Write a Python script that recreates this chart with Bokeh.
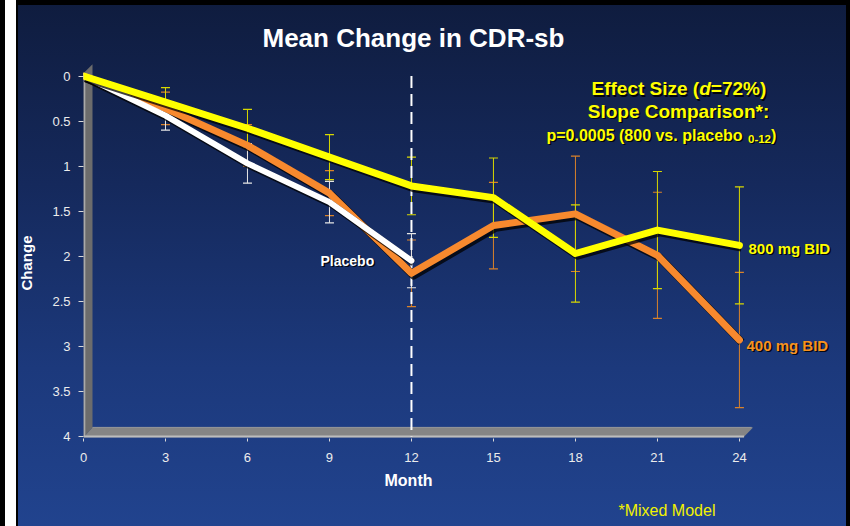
import math
from bokeh.plotting import figure
from bokeh.models import Range1d, FixedTicker, Label, ColumnDataSource, Whisker, TeeHead, Title
from bokeh.transform import dodge
from bokeh.embed import file_html
from bokeh.resources import INLINE

# ---------------- data ----------------
months = [0, 3, 6, 9, 12, 15, 18, 21, 24]
dose800 = [0, 0.29, 0.58, 0.90, 1.22, 1.35, 1.97, 1.71, 1.88]
dose800_err = [0, 0.16, 0.21, 0.25, 0.32, 0.44, 0.54, 0.65, 0.65]
dose400 = [0, 0.36, 0.77, 1.30, 2.19, 1.66, 1.53, 1.99, 2.93]
dose400_err = [0, 0.18, 0.23, 0.25, 0.37, 0.48, 0.64, 0.70, 0.75]
placebo_months = [0, 3, 6, 9, 12]
placebo = [0, 0.44, 0.97, 1.40, 2.05]
placebo_err = [0, 0.16, 0.22, 0.23, 0.30]
divider_month = 12
x_ticks = [0, 3, 6, 9, 12, 15, 18, 21, 24]
y_ticks = [0, 0.5, 1, 1.5, 2, 2.5, 3, 3.5, 4]

title_text = "Mean Change in CDR-sb"
x_label = "Month"
y_label = "Change"
footnote = "*Mixed Model"

# ---------------- geometry (figure px == page px) ----------------
W, H = 850, 526
FRAME_L, FRAME_R, FRAME_T, FRAME_B = 83, 846, 60, 438
PX_PER_MONTH = 27.33
PX_PER_UNIT = 90.1
Y0_PX = 75.5                                      # page y of value 0

x_end = (FRAME_R - FRAME_L) / PX_PER_MONTH
y_top = (FRAME_T - Y0_PX) / PX_PER_UNIT
y_bot = (FRAME_B - Y0_PX) / PX_PER_UNIT

def X(px):
    return (px - FRAME_L) / PX_PER_MONTH

def Y(py):
    return (py - Y0_PX) / PX_PER_UNIT

p = figure(width=W, height=H, output_backend="svg", toolbar_location=None,
           x_range=Range1d(0, x_end), y_range=Range1d(y_bot, y_top),
           min_border_left=FRAME_L, min_border_right=W - FRAME_R,
           min_border_top=FRAME_T, min_border_bottom=H - FRAME_B)
p.background_fill_color = None
p.border_fill_color = None
p.outline_line_color = None
p.styles = {
    "background":
        "linear-gradient(to right, #000 0px, #000 5px, #fff 5px, #fff 16px, #000 16px, #000 18px, "
        "transparent 18px, transparent 846px, #000 846px), "
        "linear-gradient(to bottom, #000 0px, #000 5px, transparent 5px), "
        "linear-gradient(to bottom, #0f1c3e 0%, #15295c 35%, #1c397c 70%, #21438e 100%)"
}
p.xgrid.visible = False
p.ygrid.visible = False

# title / outer texts
FONT = "Liberation Sans"
p.title.text = title_text
p.title.align = "left"
p.title.offset = 262 - FRAME_L
p.title.standoff = 15
p.title.text_font = FONT
p.title.text_font_size = "26px"
p.title.text_font_style = "bold"
p.title.text_color = "white"

# axes
for ax in (p.xaxis[0], p.yaxis[0]):
    ax.axis_line_color = None
    ax.major_tick_line_color = "#d8d8d8"
    ax.minor_tick_line_color = None
    ax.major_tick_in = 0
    ax.major_label_text_color = "#ececec"
    ax.major_label_text_font = FONT
    ax.major_label_text_font_size = "13px"
p.xaxis.ticker = FixedTicker(ticks=x_ticks)
p.yaxis.ticker = FixedTicker(ticks=y_ticks)
p.xaxis.major_tick_out = 3
p.xaxis.major_label_standoff = 11
p.yaxis.major_tick_out = 5
p.yaxis.major_label_standoff = 8

p.add_layout(Title(text=x_label, align="left", offset=384 - FRAME_L,
                   standoff=11, text_font=FONT, text_font_size="16px",
                   text_font_style="bold", text_color="white"), "below")
p.add_layout(Title(text=footnote, align="left", offset=618 - FRAME_L,
                   standoff=10, text_font=FONT, text_font_size="16px",
                   text_font_style="normal", text_color="#f2f200"), "below")
p.add_layout(Title(text=y_label, align="left", offset=FRAME_B - 290,
                   standoff=29, text_font=FONT, text_font_size="15px",
                   text_font_style="bold", text_color="white"), "left")

# pseudo-3D walls
x_min, x_max = x_ticks[0], x_ticks[-1]
y_min, y_max = y_ticks[0], y_ticks[-1]
dx = 9 / PX_PER_MONTH
dy = 9 / PX_PER_UNIT
p.patch([x_min, x_min + dx, x_min + dx, x_min],
        [y_min - 0.03, y_min - 0.03 - dy, y_max - dy, y_max + 0.01],
        fill_color="#6c6c6c", line_color=None)
p.segment(x0=[x_min + 0.03], y0=[y_min - 0.03], x1=[x_min + 0.03], y1=[y_max],
          line_color="#a9a9a9", line_width=2)
p.patch([x_min, x_min + dx, x_max + 0.4 + dx * 0.3, x_max + 0.15],
        [y_max + 0.01, y_max - dy, y_max - dy, y_max + 0.01],
        fill_color="#858585", line_color=None)
p.segment(x0=[x_min], y0=[y_max], x1=[x_max + 0.17], y1=[y_max],
          line_color="#bdbdbd", line_width=2)
p.segment(x0=[x_min + dx], y0=[y_max - dy], x1=[x_max + 0.45], y1=[y_max - dy],
          line_color="#9a9a9a", line_width=1)

# dashed divider
p.segment(x0=[divider_month], y0=[y_ticks[0]], x1=[divider_month], y1=[y_max],
          line_color="white", line_width=2, line_dash="12 6")

# error bars
def whiskers(xs, ys, es, color):
    src = ColumnDataSource(dict(x=xs[1:], lo=[a - b for a, b in zip(ys[1:], es[1:])],
                                hi=[a + b for a, b in zip(ys[1:], es[1:])]))
    w = Whisker(source=src, base="x", lower="lo", upper="hi", line_color=color, line_width=1,
                upper_head=TeeHead(size=9, line_color=color, line_width=1.2),
                lower_head=TeeHead(size=9, line_color=color, line_width=1.2),
                level="underlay")
    p.add_layout(w)

whiskers(months, dose400, dose400_err, "#d9822b")
whiskers(placebo_months, placebo, placebo_err, "#e6e6e6")
whiskers(months, dose800, dose800_err, "#d8d800")

# lines with drop shadows
def series(xs, ys, color, width):
    src = ColumnDataSource(dict(m=xs, v=ys))
    p.line(x=dodge("m", 0.08, range=p.x_range), y=dodge("v", 0.025, range=p.y_range), source=src,
           line_color="black", line_alpha=0.75, line_width=width + 1, line_join="round")
    p.line(x="m", y="v", source=src, line_color=color, line_width=width, line_join="round",
           line_cap="round")

series(months, dose400, "#f7892e", 7)
series(placebo_months, placebo, "#ffffff", 6)
series(months, dose800, "#ffff00", 7)

# in-plot texts (py = vertical centre of the capitals)
def label(text, px, py, size, color, bold=True, italic=False, align="left", shadow=True):
    style = "bold" if bold else "normal"
    if italic:
        style = "bold italic" if bold else "italic"
    if shadow:
        p.add_layout(Label(x=X(px), y=Y(py), text=text, x_offset=1.5, y_offset=-1.5,
                           text_font=FONT, text_font_size=size, text_font_style=style,
                           text_color="black", text_alpha=0.85, text_align=align,
                           text_baseline="middle"))
    p.add_layout(Label(x=X(px), y=Y(py), text=text,
                       text_font=FONT, text_font_size=size, text_font_style=style,
                       text_color=color, text_align=align, text_baseline="middle"))

YEL = "#ffff00"
label("Effect Size (", 591, 88, "19px", YEL)
label("d", 698.7, 88, "19px", YEL, italic=True)
label("=72%)", 710.3, 88, "19px", YEL)
label("Slope Comparison*:", 678, 110.5, "19px", YEL, align="center")
label("p=0.0005 (800 vs. placebo ", 546, 134.5, "16px", YEL)
label("0-12", 747.5, 138, "11.5px", YEL)
label(")", 770.5, 134.5, "16px", YEL)

label("Placebo", 320, 260, "14px", "white")
label("800 mg BID", 748, 247.5, "15px", YEL)
label("400 mg BID", 746, 344.5, "15px", "#f7921e")

open("out.html", "w").write(file_html(p, INLINE))
